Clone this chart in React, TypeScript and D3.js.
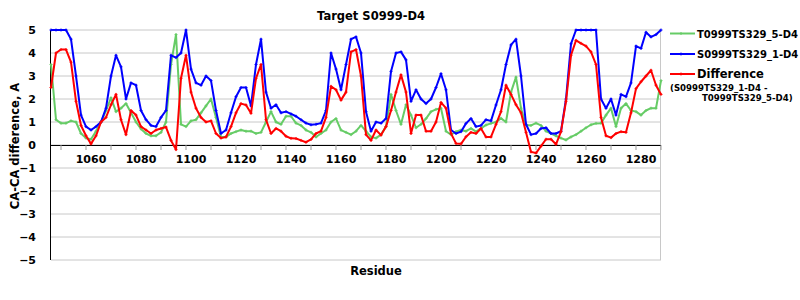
import React from 'react';
import * as d3 from 'd3';

const residues: number[] = d3.range(1044, 1289, 2);

const greenT0999: number[] = [
  3.5, 1.1, 0.95, 0.95, 1.05, 1.0, 0.5, 0.3, 0.25, 0.6, 1.0, 1.5, 2.05, 1.45, 1.6, 1.8, 1.4, 1.0, 0.7, 0.5,
  0.4, 0.4, 0.55, 1.0, 3.5, 4.8, 0.9, 0.8, 1.05, 1.1, 1.4, 1.7, 2.0, 1.2, 0.35, 0.35, 0.5, 0.58, 0.65, 0.6,
  0.6, 0.5, 0.55, 1.0, 1.45, 1.0, 0.9, 1.25, 1.25, 0.95, 0.85, 0.65, 0.55, 0.35, 0.5, 0.65, 1.0, 1.15, 0.65, 0.55,
  0.45, 0.6, 0.85, 0.6, 0.35, 0.3, 0.45, 0.8, 2.2, 1.5, 0.9, 1.75, 1.3, 0.75, 0.9, 1.15, 1.45, 1.55, 1.6, 0.6,
  0.45, 0.58, 0.65, 0.6, 0.72, 0.58, 0.72, 0.87, 0.94, 1.0, 1.16, 1.0, 2.3, 2.95, 1.6, 0.87, 0.85, 0.95, 0.85, 0.6,
  0.5, 0.4, 0.3, 0.22, 0.35, 0.45, 0.6, 0.75, 0.88, 0.94, 0.95, 1.3, 1.6, 0.8, 1.6, 1.8, 1.5, 1.45, 1.3, 1.5,
  1.6, 1.6, 2.8,
];

const blueS0999: number[] = [
  5, 5, 5, 5, 4.6, 3.0, 1.3, 0.8, 0.65, 0.8, 1.0, 1.6, 3.0, 3.9, 3.4, 2.0, 2.7, 2.6, 1.5, 1.1,
  0.85, 0.8, 1.2, 1.5, 3.9, 3.8, 4.0, 5.0, 3.3, 2.7, 2.6, 3.0, 2.8, 1.5, 0.5, 0.65, 1.4, 2.1, 2.5, 2.5,
  1.7, 3.5, 4.6, 2.3, 1.6, 1.75, 1.4, 1.45, 1.35, 1.25, 1.1, 0.95, 0.88, 0.9, 0.95, 1.5, 4.0, 3.3, 2.4, 3.5,
  4.6, 4.7, 4.0, 1.45, 0.6, 1.0, 0.95, 1.15, 3.2, 4.0, 4.05, 3.7, 1.9, 2.4, 2.0, 1.8, 2.0, 2.5, 3.1, 2.4,
  0.65, 0.5, 0.58, 0.94, 1.15, 0.8, 0.85, 1.1, 1.05, 1.74, 2.4, 3.5, 4.35, 4.6, 3.0, 0.9, 0.45, 0.5, 0.72, 0.75,
  0.5, 0.5, 0.6, 2.0, 4.4, 5, 5, 5, 5, 5, 2.0, 1.6, 2.0, 1.3, 2.2, 2.1, 2.7, 4.3, 4.2, 4.9,
  4.7, 4.8, 5,
];

const redDiff: number[] = [
  2.5, 4.0, 4.15, 4.15, 3.6, 1.9, 0.85, 0.4, 0.05, 0.4, 1.0, 1.2, 1.75, 2.2, 1.1, 0.45, 1.5, 1.3, 0.8, 0.65,
  0.5, 0.65, 0.72, 0.78, 0.2, -0.2, 2.9, 3.9, 2.3, 1.6, 1.2, 1.0, 1.05, 0.5, 0.3, 0.35, 0.8, 1.4, 1.8, 1.74,
  1.38, 2.9, 3.5, 1.1, 0.5, 0.72, 0.6, 0.38, 0.29, 0.28, 0.2, 0.12, 0.24, 0.5, 0.6, 1.2, 2.55, 2.4, 1.95, 2.3,
  4.05, 4.15, 3.0, 0.45, 0.2, 0.65, 0.43, 0.8, 1.5, 2.3, 3.05, 2.3, 0.5, 1.3, 1.3, 0.6, 0.6, 1.0, 1.85, 1.6,
  0.5, 0.07, 0.05, 0.36, 0.55, 0.5, 0.72, 0.35, 0.35, 0.9, 1.45, 2.6, 2.2, 1.75, 1.4, 0.55, -0.3, -0.35, -0.05, 0.25,
  0.25, 0.03, 0.58, 1.9, 3.9, 4.55, 4.42, 4.3, 4.05, 3.5, 1.2, 0.4, 0.32, 0.5, 0.58, 0.55, 1.4, 2.45, 2.75, 3.0,
  3.25, 2.6, 2.2,
];

const yTickValues: number[] = [5, 4, 3, 2, 1, 0, -1, -2, -3, -4, -5];
const xTickLabels: number[] = [1060, 1080, 1100, 1120, 1140, 1160, 1180, 1200, 1220, 1240, 1260, 1280];
const xMinorTicks: number[] = d3.range(1048, 1289, 10);

const seriesNames = ['T0999TS329_5-D4', 'S0999TS329_1-D4', 'Difference'];
const seriesColors = ['#66cc66', '#0000ff', '#ff0000'];

const FONT = 'DejaVu Sans, sans-serif';

export default function App() {
  const x = d3.scaleLinear().domain([1044, 1288]).range([51, 661]);
  const y = d3.scaleLinear().domain([-5, 5]).range([260, 30]);
  const line = d3
    .line<[number, number]>()
    .x((d) => x(d[0]))
    .y((d) => y(d[1]));

  const series = [greenT0999, blueS0999, redDiff];

  return (
    <svg
      width={800}
      height={300}
      style={{ position: 'absolute', left: 0, top: 0, background: '#fff' }}
      fontFamily={FONT}
    >
      <rect x={0} y={0} width={800} height={300} fill="#fff" />
      {/* grid */}
      {yTickValues.map((v) => (
        <line key={'g' + v} x1={51} x2={661} y1={y(v)} y2={y(v)} stroke="#c8c8c8" strokeWidth={1} />
      ))}
      <line x1={660.5} x2={660.5} y1={30} y2={260} stroke="#c8c8c8" strokeWidth={1} />
      {/* zero line */}
      <line x1={51} x2={661} y1={y(0) + 0.5} y2={y(0) + 0.5} stroke="#000" strokeWidth={1} />
      {/* y axis */}
      <line x1={50.5} x2={50.5} y1={30} y2={260} stroke="#000" strokeWidth={1} />
      {/* x minor ticks */}
      {xMinorTicks.map((t) => (
        <line key={'t' + t} x1={x(t)} x2={x(t)} y1={y(0)} y2={y(0) + 5} stroke="#999" strokeWidth={1} />
      ))}
      {/* x tick labels */}
      {xTickLabels.map((t) => (
        <text key={'xl' + t} x={x(t)} y={163} textAnchor="middle" fontSize={11} fontWeight="bold" fill="#000">
          {t}
        </text>
      ))}
      {/* y tick labels */}
      {yTickValues.map((v) => (
        <text key={'yl' + v} x={36} y={y(v) + 4} textAnchor="end" fontSize={11} fontWeight="bold" fill="#000">
          {v < 0 ? '\u2212' + Math.abs(v) : String(v)}
        </text>
      ))}
      {/* series */}
      {series.map((vals, si) => {
        const pts: [number, number][] = residues.map((r, i) => [r, vals[i]]);
        return (
          <g key={'s' + si}>
            <path d={line(pts) || ''} fill="none" stroke={seriesColors[si]} strokeWidth={2} strokeLinejoin="round" />
            {pts.map((p, i) => (
              <path
                key={i}
                d={`M${x(p[0]) - 1.5},${y(p[1])}h3M${x(p[0])},${y(p[1]) - 1.5}v3`}
                stroke={seriesColors[si]}
                strokeWidth={1}
              />
            ))}
          </g>
        );
      })}
      {/* title */}
      <text x={371} y={20} textAnchor="middle" fontSize={11.5} fontWeight="bold" fill="#000">
        Target S0999-D4
      </text>
      {/* axis titles */}
      <text x={376} y={275} textAnchor="middle" fontSize={11.5} fontWeight="bold" fill="#000">
        Residue
      </text>
      <text
        transform={`translate(19,146) rotate(-90)`}
        textAnchor="middle"
        fontSize={11.5}
        fontWeight="bold"
        fill="#000"
      >
        CA-CA difference, A
      </text>
      {/* legend */}
      {seriesNames.map((name, i) => {
        const ly = [33.5, 54, 74][i];
        return (
          <g key={'lg' + i}>
            <line x1={670} x2={695} y1={ly} y2={ly} stroke={seriesColors[i]} strokeWidth={2} />
            <path d={`M681,${ly - 1.5}v3`} stroke={seriesColors[i]} strokeWidth={1} />
            <text
              x={697}
              y={ly + 4}
              fontSize={i === 2 ? 11.5 : 10}
              fontWeight="bold"
              fill="#000"
            >
              {name}
            </text>
          </g>
        );
      })}
      <text x={670} y={91} fontSize={8.6} fontWeight="bold" fill="#000">
        (S0999TS329_1-D4 -
      </text>
      <text x={702} y={101} fontSize={8.6} fontWeight="bold" fill="#000">
        T0999TS329_5-D4)
      </text>
    </svg>
  );
}
